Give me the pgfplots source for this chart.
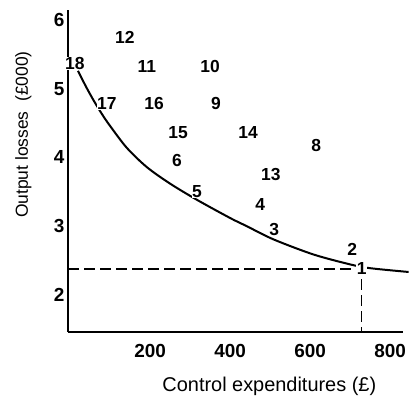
\documentclass[border=0pt]{standalone}
\usepackage{fontspec}
\setmainfont{Liberation Sans}
\usepackage{pgfplots}
\pgfplotsset{compat=1.18}
\begin{document}
\begin{tikzpicture}
\useasboundingbox (0,0) rectangle (409bp,396bp);
\begin{axis}[
  at={(68bp,64bp)}, anchor=south west,
  scale only axis, width=335bp, height=322bp,
  xmin=-5, xmax=832, ymin=1.462, ymax=6.145,
  axis lines=left, axis line style={-, line width=1.3bp},
  xtick={200,400,600,800}, ytick={2,3,4,5,6},
  major tick length=0pt,
  /pgf/number format/assume math mode=true,
  tick label style={font=\fontsize{19}{21}\selectfont\bfseries},
  xticklabel style={yshift=-9bp},
  xlabel={Control expenditures (£)},
  ylabel={Output losses \ (£000)},
  xlabel style={font=\fontsize{20}{22}\selectfont, at={(axis description cs:0.601,0)}, anchor=center, yshift=-54bp},
  ylabel style={font=\fontsize{17.5}{20}\selectfont, at={(axis description cs:-0.133,0.613)}, anchor=center},
  clip=false,
]
\addplot[black, line width=2bp, smooth] coordinates {
(20,5.26) (40,5.03) (60,4.82) (80,4.63) (100,4.46) (142,4.14) (192,3.86)
(250,3.62) (317,3.385) (400,3.12) (442,3.0) (508,2.81) (608,2.59)
(700,2.445) (750,2.39) (846,2.335)};
\addplot[black, line width=1.3bp, dash pattern=on 11bp off 5bp] coordinates {
(-5,2.38) (729,2.38) (729,1.462)};
\addplot[draw=none, mark=none, nodes near coords, point meta=explicit symbolic,
  nodes near coords style={anchor=center, font=\fontsize{17.5}{19}\selectfont\bfseries,
  fill=white, inner sep=0.5bp}]
  table[meta=lab] {
x y lab
729 2.38 1
705 2.67 2
510 2.95 3
475 3.31 4
317 3.50 5
267 3.96 6
615 4.17 8
365 4.79 9
350 5.32 10
192 5.32 11
137 5.75 12
502 3.75 13
445 4.36 14
270 4.36 15
210 4.78 16
92 4.79 17
12 5.37 18
};
\end{axis}
\end{tikzpicture}
\end{document}
